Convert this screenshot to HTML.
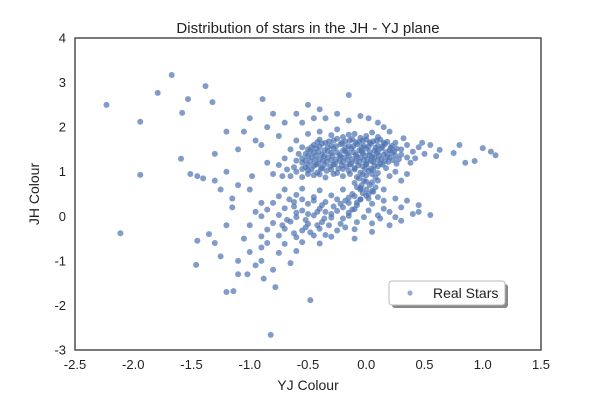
<!DOCTYPE html>
<html><head><meta charset="utf-8"><style>
html,body{margin:0;padding:0;background:#fff;}
svg{display:block;font-family:"Liberation Sans",sans-serif;}
</style></head><body>
<svg id="chart" width="600" height="400">
<text x="308" y="33" font-size="15" text-anchor="middle" fill="#222">Distribution of stars in the JH - YJ plane</text>
<g id="xt"></g>
<g id="yt"></g>
<g id="pts"></g>
<rect x="75" y="38" width="466" height="312" fill="none" stroke="#333" stroke-width="1.3"/>
<text x="308" y="390" font-size="14" text-anchor="middle" fill="#222">YJ Colour</text>
<text transform="translate(39,194) rotate(-90)" font-size="14" text-anchor="middle" fill="#222">JH Colour</text>
<g>
<rect x="392" y="284" width="116" height="24" rx="3" fill="#888"/>
<rect x="389" y="281" width="116" height="24" rx="3" fill="#fff" stroke="#bbb"/>
<circle cx="410" cy="293" r="2.6" fill="#4c72b0" fill-opacity="0.6"/>
<text x="433" y="298" font-size="14" fill="#222">Real Stars</text>
</g>
</svg>
<script>
const xTicks=[-2.5,-2.0,-1.5,-1.0,-0.5,0.0,0.5,1.0,1.5];
const yTicks=[-3,-2,-1,0,1,2,3,4];
const outliers=[[-2.23,2.5],[-1.67,3.17],[-1.79,2.77],[-1.94,2.12],[-1.94,0.93],[-2.11,-0.38],[-1.38,2.92],[-1.53,2.63],[-1.58,2.32],[-1.32,2.56],[-0.89,2.63],[-1.59,1.29],[-1.51,0.95],[-1.46,-1.09],[-1.14,-1.68],[-0.82,-2.66],[-0.48,-1.88],[-0.78,-1.59],[-0.15,2.72],[1.0,1.53],[1.11,1.37],[0.93,1.24],[0.63,1.49],[0.55,0.03],[1.07,1.45],[0.85,1.2],[0.75,1.42],[0.8,1.6]];
const leftStars=[[-1.45,0.9],[-1.4,0.85],[-1.3,0.8],[-1.25,0.6],[-1.2,1.0],[-1.15,0.4],[-1.1,1.5],[-1.05,1.9],[-1.0,2.2],[-0.95,1.7],[-1.3,1.4],[-1.2,1.9],[-1.35,-0.4],[-1.3,-0.6],[-1.25,-0.9],[-1.2,-0.2],[-1.15,0.2],[-1.1,-1.0],[-1.05,-0.5],[-1.0,0.6],[-0.95,0.1],[-0.9,-0.7],[-0.9,0.3],[-1.02,-1.3],[-0.95,-1.1],[-0.88,-1.4],[-1.2,-1.7],[-1.1,-1.3],[-0.85,1.2],[-0.9,1.6],[-0.85,2.0],[-0.8,2.3],[-0.75,1.8],[-0.7,2.1],[-0.65,1.5],[-0.6,2.3],[-0.55,2.1],[-0.5,2.5],[-0.45,2.2],[-0.4,2.4],[-0.35,2.2],[-0.25,2.3],[-0.15,2.15],[-0.05,2.25],[0.02,2.2],[0.1,2.1],[-1.45,-0.55],[-1.0,-0.2],[-0.98,0.9],[-1.1,0.7]];
const mainCluster=[[-0.3,1.82],[-0.2,1.78],[-0.1,1.85],[0.0,1.8],[0.05,1.88],[0.1,1.78],[-0.05,1.76],[-0.15,1.83],
[-0.4,1.72],[-0.32,1.68],[-0.25,1.74],[-0.18,1.68],[-0.12,1.73],[-0.06,1.67],[0.0,1.72],[0.06,1.68],[0.12,1.72],[0.18,1.67],
[-0.45,1.6],[-0.38,1.63],[-0.3,1.58],[-0.22,1.62],[-0.15,1.57],[-0.08,1.62],[-0.02,1.58],[0.04,1.63],[0.1,1.58],[0.16,1.62],[0.22,1.58],
[-0.5,1.5],[-0.43,1.53],[-0.36,1.48],[-0.28,1.52],[-0.2,1.47],[-0.13,1.52],[-0.06,1.48],[0.0,1.52],[0.07,1.47],[0.13,1.52],[0.2,1.48],[0.26,1.52],
[-0.52,1.4],[-0.45,1.43],[-0.38,1.38],[-0.3,1.42],[-0.23,1.37],[-0.16,1.42],[-0.09,1.38],[-0.03,1.42],[0.03,1.37],[0.09,1.42],[0.15,1.38],[0.22,1.42],[0.3,1.38],
[-0.55,1.3],[-0.47,1.33],[-0.4,1.28],[-0.33,1.32],[-0.26,1.27],[-0.19,1.32],[-0.12,1.28],[-0.05,1.32],[0.01,1.27],[0.07,1.32],[0.13,1.28],[0.2,1.32],[0.28,1.28],[0.35,1.32],
[-0.55,1.2],[-0.48,1.23],[-0.41,1.18],[-0.34,1.22],[-0.27,1.17],[-0.2,1.22],[-0.13,1.18],[-0.06,1.22],[0.0,1.17],[0.06,1.22],[0.12,1.18],[0.19,1.22],[0.26,1.18],
[-0.52,1.1],[-0.45,1.13],[-0.38,1.08],[-0.31,1.12],[-0.24,1.07],[-0.17,1.12],[-0.1,1.08],[-0.03,1.12],[0.04,1.07],[0.1,1.12],[0.17,1.08],
[-0.6,1.0],[-0.5,1.03],[-0.42,0.98],[-0.34,1.02],[-0.25,0.97],[-0.15,1.02],[-0.05,0.98],[0.02,1.02],[0.1,0.97],
[-0.65,0.9],[-0.55,0.88],[-0.45,0.92],[-0.35,0.87],[-0.2,0.9],[-0.08,0.88],[0.0,0.92],[0.08,0.87],
[-0.62,1.1],[-0.6,1.25],[-0.58,1.4],[-0.55,1.55],[-0.6,1.7],[-0.7,1.3],[-0.68,1.05],[-0.72,0.9],[-0.8,0.95],[-0.75,1.15],
[0.3,1.5],[0.35,1.6],[0.4,1.45],[0.45,1.55],[0.5,1.4],[0.42,1.3],[0.55,1.6],[0.6,1.35],[0.25,1.65],[0.32,1.75],[0.38,1.2],[0.48,1.65],[0.2,1.9],[0.15,2.0],[-0.25,1.95],[-0.4,1.9],[-0.5,1.85],
[-0.02,0.8],[0.03,0.7],[-0.05,0.6],[0.02,0.5],[0.08,0.65],[-0.1,0.75],[0.1,0.8],[0.15,0.6],[0.2,0.9],[0.25,1.0],[0.3,0.8],[0.35,0.95],[0.25,0.4],[0.3,0.2],[0.4,0.05],[0.45,0.1]];
const coreFill=[[-0.42,1.66],[-0.35,1.65],[-0.28,1.7],[-0.21,1.65],[-0.14,1.7],[-0.09,1.66],[-0.03,1.7],[0.03,1.66],[0.09,1.7],[0.15,1.65],
[-0.47,1.55],[-0.4,1.56],[-0.33,1.55],[-0.26,1.57],[-0.18,1.55],[-0.11,1.57],[-0.04,1.55],[0.02,1.56],[0.08,1.54],[0.14,1.56],[0.21,1.54],
[-0.48,1.46],[-0.41,1.45],[-0.33,1.46],[-0.25,1.44],[-0.18,1.46],[-0.11,1.44],[-0.04,1.46],[0.03,1.44],[0.1,1.46],[0.17,1.44],[0.24,1.46],
[-0.5,1.35],[-0.43,1.36],[-0.36,1.35],[-0.29,1.36],[-0.22,1.34],[-0.15,1.36],[-0.08,1.34],[-0.01,1.36],[0.05,1.34],[0.11,1.36],[0.18,1.34],[0.25,1.36],
[-0.52,1.25],[-0.44,1.26],[-0.37,1.25],[-0.3,1.26],[-0.23,1.24],[-0.16,1.26],[-0.09,1.24],[-0.02,1.26],[0.04,1.24],[0.1,1.26],[0.16,1.24],[0.23,1.26],
[-0.5,1.15],[-0.43,1.16],[-0.36,1.15],[-0.28,1.16],[-0.21,1.14],[-0.14,1.16],[-0.07,1.14],[0.0,1.16],[0.07,1.14],[0.14,1.16],
[-0.55,1.06],[-0.47,1.05],[-0.39,1.06],[-0.3,1.05],[-0.2,1.06],[-0.1,1.05],[-0.01,1.06],[0.06,1.04],
[-0.5,0.95],[-0.4,0.94],[-0.28,0.95],[-0.14,0.95],[-0.03,0.94],[0.05,0.95],
[-0.06,0.85],[0.0,0.78],[-0.04,0.7],[0.05,0.76],[-0.08,0.65],[0.0,0.6],[-0.03,0.52],[0.06,0.55],[-0.1,0.45],[-0.05,0.38],[0.02,0.4],[-0.15,0.3],[-0.08,0.25],[-0.2,0.2],[-0.12,0.15]];
const lowerCluster=[[-0.7,0.6],[-0.55,0.62],[-0.4,0.58],[-0.2,0.6],[-0.05,0.63],[0.05,0.57],
[-0.75,0.45],[-0.6,0.48],[-0.45,0.43],[-0.3,0.47],[-0.15,0.42],[0.0,0.46],[0.1,0.43],
[-0.8,0.3],[-0.62,0.32],[-0.5,0.28],[-0.35,0.32],[-0.22,0.28],[-0.08,0.31],[0.05,0.28],
[-0.85,0.15],[-0.7,0.18],[-0.55,0.13],[-0.4,0.17],[-0.25,0.12],[-0.1,0.16],[0.02,0.13],[0.15,0.17],
[-0.9,0.0],[-0.75,0.03],[-0.6,-0.02],[-0.45,0.02],[-0.3,-0.03],[-0.15,0.01],[-0.02,-0.02],[0.1,0.02],[0.25,-0.02],
[-0.8,-0.15],[-0.65,-0.12],[-0.5,-0.17],[-0.38,-0.13],[-0.22,-0.17],[-0.08,-0.13],[0.05,-0.16],
[-0.85,-0.3],[-0.7,-0.28],[-0.55,-0.32],[-0.4,-0.28],[-0.25,-0.32],[-0.1,-0.29],
[-0.9,-0.45],[-0.75,-0.43],[-0.6,-0.47],[-0.45,-0.43],[-0.3,-0.46],
[-0.85,-0.6],[-0.7,-0.62],[-0.55,-0.58],[-0.4,-0.61],
[-1.0,-0.8],[-0.75,-0.82],[-0.6,-0.78],[-0.9,-1.0],[-0.8,-1.2],[-0.65,-1.05],
[-0.5,0.05],[-0.35,0.1],[-0.28,0.22],[-0.18,0.35],[-0.12,0.5],[-0.45,0.35],[-0.62,0.22],[-0.68,-0.08],[-0.52,-0.25],[-0.35,-0.42],[-0.2,-0.05],[-0.05,0.38],
[0.15,0.35],[0.2,0.1],[0.12,-0.05],[0.2,-0.2],[0.3,-0.1],[0.05,-0.35],[-0.1,-0.5],[0.35,0.35],[0.45,0.25],
[-0.6,0.08],[-0.52,-0.08],[-0.42,-0.2],[-0.36,-0.05],[-0.3,0.05],[-0.42,0.1],[-0.55,0.38],[-0.66,0.38],[-0.72,-0.2],[-0.62,-0.38],[-0.48,-0.36],[-0.32,-0.2],[-0.18,-0.25],[-0.25,0.38],[-0.38,0.25],[-0.15,0.08]];
const starPoints=outliers.concat(leftStars,mainCluster,coreFill,lowerCluster);
const X0=75,X1=541,Y0=350,Y1=38;
const sx=v=>X0+(v-(-2.5))/(1.5-(-2.5))*(X1-X0);
const sy=v=>Y0-(v-(-3))/(4-(-3))*(Y0-Y1);
const NS='http://www.w3.org/2000/svg';
const xt=document.getElementById('xt'),yt=document.getElementById('yt'),pts=document.getElementById('pts');
xTicks.forEach(v=>{const t=document.createElementNS(NS,'text');


t.setAttribute('x',sx(v));t.setAttribute('y',369);t.setAttribute('font-size','13');t.setAttribute('text-anchor','middle');t.setAttribute('fill','#222');t.textContent=v.toFixed(1);xt.appendChild(t);});
yTicks.forEach(v=>{const t=document.createElementNS(NS,'text');


t.setAttribute('x',66);t.setAttribute('y',sy(v)+4.5);t.setAttribute('font-size','13');t.setAttribute('text-anchor','end');t.setAttribute('fill','#222');t.textContent=String(v);yt.appendChild(t);});
starPoints.forEach(p=>{const c=document.createElementNS(NS,'circle');


c.setAttribute('cx',sx(p[0]));c.setAttribute('cy',sy(p[1]));c.setAttribute('r','3');c.setAttribute('fill','#4c72b0');c.setAttribute('fill-opacity','0.7');pts.appendChild(c);});
</script>
</body></html>
